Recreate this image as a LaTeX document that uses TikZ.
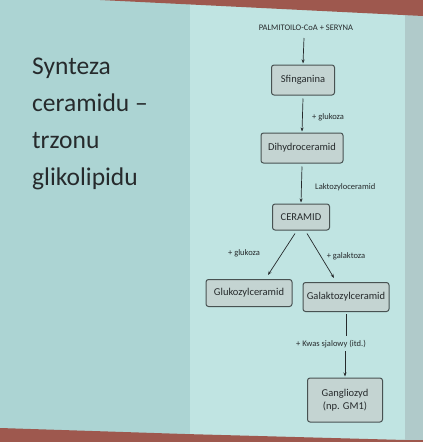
\documentclass[tikz,border=0pt]{standalone}
\usepackage{fontspec}
\setmainfont{Carlito}
\usetikzlibrary{arrows.meta}
\definecolor{leftbg}{RGB}{172,212,211}
\definecolor{rightbg}{RGB}{192,228,226}
\definecolor{stripbg}{RGB}{176,202,202}
\definecolor{redband}{RGB}{158,88,78}
\definecolor{boxfill}{RGB}{196,212,210}
\definecolor{boxdraw}{RGB}{72,82,82}
\definecolor{inkc}{RGB}{38,42,44}
\tikzset{
  stepbox/.style={draw=boxdraw, fill=boxfill, rounded corners=2.5pt, line width=1pt,
    font=\fontsize{10.5}{13}\selectfont, text=inkc, inner xsep=3pt, inner ysep=3pt},
  lbl/.style={font=\fontsize{8.5}{10}\selectfont, text=inkc, inner sep=1pt},
  arr/.style={draw=inkc, line width=0.7pt, -{Stealth[length=4pt,width=3pt]}},
  ln/.style={draw=inkc, line width=0.7pt}
}
\begin{document}
\begin{tikzpicture}[x=1pt,y=-1pt]
\useasboundingbox (0,0) rectangle (423,442);
% background
\fill[leftbg] (0,0) rectangle (190,442);
\fill[rightbg] (190,0) rectangle (405,442);
\fill[stripbg] (405,0) rectangle (423,442);
\fill[redband] (100,0) -- (423,0) -- (423,16) -- cycle;
\fill[redband] (0,428) -- (185,434) -- (405,440) -- (423,440) -- (423,442) -- (0,442) -- cycle;
% title
\node[anchor=north west, align=left, text=inkc, font=\fontsize{25.5}{37}\selectfont, inner sep=0pt] (title) at (32,58)
 {Synteza\\ceramidu --\\trzonu\\glikolipidu};
% nodes
\node[font=\fontsize{8.5}{10}\selectfont, text=inkc, inner sep=1pt] (start) at (306,28) {PALMITOILO-CoA + SERYNA};
\node[stepbox, minimum width=63pt, minimum height=30pt] (sfi) at (303,80) {Sfinganina};
\node[stepbox, minimum width=82pt, minimum height=30pt] (dhc) at (302,148) {Dihydroceramid};
\node[stepbox, minimum width=57pt, minimum height=26pt] (cer) at (301,217) {CERAMID};
\node[stepbox, minimum width=86pt, minimum height=27pt] (glu) at (249,293) {Glukozylceramid};
\node[stepbox, minimum width=86pt, minimum height=29pt] (gal) at (346,297) {Galaktozylceramid};
\node[stepbox, minimum width=75pt, minimum height=44pt, align=center] (gan) at (345,400) {Gangliozyd\\(np. GM1)};
% connectors
\coordinate (s0) at (304,38);
\draw[arr] (s0) -- ([yshift=1pt]sfi.north);
\draw[arr] ([yshift=-3pt]sfi.south) -- ([yshift=1pt]dhc.north);
\node[lbl, anchor=west] (l1) at (311,117) {+ glukoza};
\draw[arr] ([yshift=-3pt]dhc.south) -- ([yshift=1pt]cer.north);
\node[lbl, anchor=west] (l2) at (314,187) {Laktozyloceramid};
\draw[arr] ([xshift=-6pt,yshift=-3pt]cer.south) -- ([xshift=19pt,yshift=4pt]glu.north);
\draw[arr] ([xshift=6pt,yshift=-3pt]cer.south) -- ([xshift=-12pt,yshift=4pt]gal.north);
\node[lbl] (l3) at (244,253) {+ glukoza};
\node[lbl] (l4) at (346,256) {+ galaktoza};
\coordinate (kw) at (346,336);
\draw[ln] ([yshift=-2pt]gal.south) -- (kw);
\node[lbl] (l5) at (331,344) {+ Kwas sjalowy (itd.)};
\coordinate (kw2) at (345,351);
\draw[arr] (kw2) -- ([yshift=1pt]gan.north);
\end{tikzpicture}
\end{document}
